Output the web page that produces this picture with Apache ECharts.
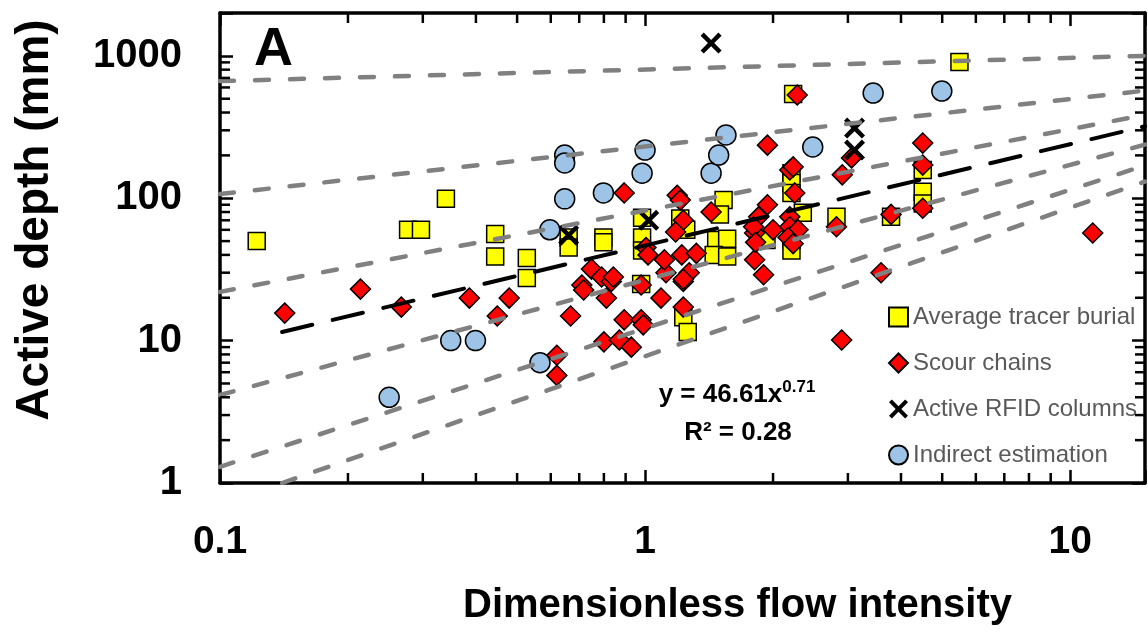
<!DOCTYPE html>
<html>
<head>
<meta charset="utf-8">
<title>Active depth vs dimensionless flow intensity</title>
<script src="https://cdn.jsdelivr.net/npm/echarts@6.0.0/dist/echarts.min.js"></script>
<style>
  html, body { margin: 0; padding: 0; background: #fff; }
  #chart { width: 1148px; height: 633px; }
</style>
</head>
<body>
<div id="chart"></div>
<script>
// values: [flow intensity, active depth (mm)]
const tracerBurial = [
  [0.122, 50], [0.277, 60], [0.297, 60], [0.340, 99], [0.444, 56], [0.444, 39],
  [0.527, 38], [0.527, 27.5], [0.661, 53], [0.661, 45], [0.798, 53], [0.798, 49],
  [0.984, 73], [0.984, 53], [0.984, 43], [0.979, 25], [1.21, 72], [1.25, 60],
  [1.53, 97], [1.50, 77], [1.47, 51], [1.56, 52], [1.45, 40], [1.56, 39],
  [1.23, 14.6], [1.26, 11.5], [1.93, 51], [2.21, 150], [2.21, 128], [2.21, 109],
  [2.35, 79], [2.21, 51], [2.21, 43], [2.23, 539], [2.82, 74], [3.79, 74],
  [4.5, 158], [4.5, 111], [4.5, 92], [5.49, 904]
]
const scourChains = [
  [0.142, 15.6], [0.214, 23], [0.267, 17.2], [0.386, 19.9], [0.449, 14.9], [0.479, 19.9],
  [0.668, 14.9], [0.71, 24.6], [0.717, 22.7], [0.748, 31.8], [0.62, 7.9], [0.62, 5.7],
  [0.79, 28], [0.833, 26], [0.811, 19.9], [0.842, 28], [0.979, 24.6], [1.09, 19.9],
  [1.23, 17.2], [1.23, 26], [1.12, 30], [1.27, 30], [1.90, 29], [0.893, 14],
  [0.979, 14], [0.99, 12.9], [0.80, 9.8], [0.870, 10.1], [0.928, 9.0],
  [0.893, 109], [1.005, 45], [1.016, 40], [1.11, 37], [1.19, 105], [1.21, 97],
  [1.23, 70], [1.18, 58], [1.22, 40], [1.32, 41], [1.23, 27], [1.43, 80],
  [1.81, 37], [1.81, 57], [1.94, 236], [1.94, 90], [1.85, 74], [1.80, 63],
  [2.00, 60], [1.82, 49], [2.19, 158], [2.23, 166], [2.25, 109], [2.19, 74],
  [2.19, 63], [2.29, 60], [2.17, 53], [2.23, 48], [2.28, 531], [2.82, 63],
  [2.91, 146], [3.06, 192], [2.90, 10.1], [3.59, 30], [3.79, 77],
  [4.5, 244], [4.5, 171], [4.5, 85], [11.3, 57]
]
const rfidColumns = [[0.661, 55], [1.02, 70], [1.43, 1230], [3.11, 311], [3.11, 218]]
const indirectEstimation = [
  [0.250, 4], [0.349, 10], [0.399, 10], [0.566, 7], [0.597, 60], [0.647, 201],
  [0.647, 177], [0.647, 99], [0.798, 109], [1.0, 218], [0.984, 150], [1.43, 150],
  [1.49, 201], [1.55, 278], [2.48, 229], [3.44, 548], [4.99, 566]
]

// power-law fit y = 46.61x^0.71 (end points as drawn) and the grey reference lines
const fitLine = [[0.14, 11.5], [15, 320]]
const guide1 = [[0.1, 665], [15, 1000]]
const guide2 = [[0.1, 107], [15, 570]]
const guide3 = [[0.1, 22], [15, 385]]
const guide4 = [[0.1, 4.15], [15, 238]]
const guide5 = [[0.1, 1.3], [15, 170]]
const guide6 = [[0.14, 1], [15, 131]]

// axis ranges and minor tick values
const xRange = [0.1, 15]
const yRange = [1, 2000]
const xMinorTicks = [0.2, 0.3, 0.4, 0.5, 0.6, 0.7, 0.8, 0.9, 2, 3, 4, 5, 6, 7, 8, 9]
const yMinorTicks = [2, 3, 4, 5, 6, 7, 8, 9, 20, 30, 40, 50, 60, 70, 80, 90,
  200, 300, 400, 500, 600, 700, 800, 900]

const FONT = '"Liberation Sans", Arial, Helvetica, sans-serif'
const xMark = 'path://M0,3L3,0L10,7L17,0L20,3L13,10L20,17L17,20L10,13L3,20L0,17L7,10Z'

function decadeLabel(v) {
  const l = Math.log10(v)
  return Math.abs(l - Math.round(l)) < 1e-6 ? String(+v.toPrecision(3)) : ''
}

const chart = echarts.init(document.getElementById('chart'))

const frameAxis = {
  type: 'log',
  logBase: 10,
  axisLine: { show: true, lineStyle: { color: '#000', width: 3.5 } },
  axisTick: { show: true, inside: true, length: 13, lineStyle: { color: '#000', width: 2.5 } },
  splitLine: { show: false }
}

function minorTickSeries(name, values, vertical) {
  return {
    name: name,
    type: 'custom',
    silent: true,
    z: 6,
    data: values.map(v => vertical ? [v, yRange[0]] : [xRange[0], v]),
    renderItem: function(params, api) {
      const style = { stroke: '#000', lineWidth: 2.5 }
      if (vertical) {
        const v = api.value(0)
        const b = api.coord([v, yRange[0]])
        const t = api.coord([v, yRange[1]])
        return { type: 'group', children: [
          { type: 'line', shape: { x1: b[0], y1: b[1], x2: b[0], y2: b[1] - 10 }, style: style },
          { type: 'line', shape: { x1: t[0], y1: t[1], x2: t[0], y2: t[1] + 10 }, style: style }
        ] }
      }
      const v = api.value(1)
      const l = api.coord([xRange[0], v])
      const r = api.coord([xRange[1], v])
      return { type: 'group', children: [
        { type: 'line', shape: { x1: l[0], y1: l[1], x2: l[0] + 10, y2: l[1] }, style: style },
        { type: 'line', shape: { x1: r[0], y1: r[1], x2: r[0] - 10, y2: r[1] }, style: style }
      ] }
    }
  }
}

function guideSeries(name, data) {
  return {
    name: name,
    type: 'line',
    data: data,
    showSymbol: false,
    silent: true,
    z: 4,
    lineStyle: { color: '#808080', width: 4.5, type: [14, 21], cap: 'round' }
  }
}

chart.setOption({
  animation: false,
  textStyle: { fontFamily: FONT },
  title: [
    { text: 'A', left: 249, top: 18, textStyle: { fontSize: 54, fontWeight: 'bold', color: '#000', fontFamily: FONT } },
    {
      text: '{m|y = 46.61x}{s|0.71}',
      left: 732, top: 374, textAlign: 'center',
      textStyle: {
        fontFamily: FONT,
        rich: {
          m: { fontSize: 26, fontWeight: 'bold', color: '#000', fontFamily: FONT, lineHeight: 32 },
          s: { fontSize: 17, fontWeight: 'bold', color: '#000', fontFamily: FONT, verticalAlign: 'top', lineHeight: 22 }
        }
      }
    },
    { text: 'R² = 0.28', left: 733, top: 415, textAlign: 'center', textStyle: { fontSize: 26, fontWeight: 'bold', color: '#000', fontFamily: FONT } }
  ],
  legend: {
    data: ['Average tracer burial', 'Scour chains', 'Active RFID columns', 'Indirect estimation'],
    orient: 'vertical',
    left: 883,
    top: 300,
    itemWidth: 19,
    itemHeight: 19,
    itemGap: 22,
    textStyle: { fontSize: 24, color: '#595959', fontFamily: FONT }
  },
  grid: { left: 220, top: 13, width: 932, height: 470 },
  xAxis: [
    Object.assign({}, frameAxis, {
      position: 'bottom',
      min: xRange[0],
      max: xRange[1],
      axisLabel: { margin: 40, fontSize: 39, fontWeight: 'bold', color: '#000', fontFamily: FONT, formatter: decadeLabel },
      name: 'Dimensionless flow intensity',
      nameLocation: 'middle',
      nameGap: 103,
      nameTextStyle: { fontSize: 40, fontWeight: 'bold', color: '#000', fontFamily: FONT, padding: [0, 0, 0, 110] }
    }),
    Object.assign({}, frameAxis, {
      position: 'top',
      min: xRange[0],
      max: xRange[1],
      axisLabel: { show: false }
    })
  ],
  yAxis: [
    Object.assign({}, frameAxis, {
      position: 'left',
      min: yRange[0],
      max: yRange[1],
      axisLabel: { margin: 38, fontSize: 40, fontWeight: 'bold', color: '#000', fontFamily: FONT, formatter: decadeLabel },
      name: 'Active depth (mm)',
      nameLocation: 'middle',
      nameGap: 162,
      nameTextStyle: { fontSize: 46, fontWeight: 'bold', color: '#000', fontFamily: FONT, padding: [0, 0, 0, 56] }
    }),
    Object.assign({}, frameAxis, {
      position: 'right',
      min: yRange[0],
      max: yRange[1],
      axisLabel: { show: false }
    })
  ],
  series: [
    {
      name: 'Average tracer burial',
      type: 'scatter',
      symbol: 'rect',
      symbolSize: 17,
      data: tracerBurial,
      itemStyle: { color: '#ffff00', borderColor: '#000', borderWidth: 1.5, opacity: 1 }
    },
    {
      name: 'Scour chains',
      type: 'scatter',
      symbol: 'diamond',
      symbolSize: 20,
      data: scourChains,
      itemStyle: { color: '#ff0000', borderColor: '#000', borderWidth: 1.5, opacity: 1 }
    },
    {
      name: 'Active RFID columns',
      type: 'scatter',
      symbol: xMark,
      symbolSize: 21,
      data: rfidColumns,
      itemStyle: { color: '#000', opacity: 1 }
    },
    {
      name: 'Indirect estimation',
      type: 'scatter',
      symbol: 'circle',
      symbolSize: 20,
      data: indirectEstimation,
      itemStyle: { color: '#9dc3e6', borderColor: '#000', borderWidth: 1.5, opacity: 1 }
    },
    guideSeries('guide1', guide1),
    guideSeries('guide2', guide2),
    guideSeries('guide3', guide3),
    guideSeries('guide4', guide4),
    guideSeries('guide5', guide5),
    guideSeries('guide6', guide6),
    {
      name: 'fit',
      type: 'line',
      data: fitLine,
      showSymbol: false,
      silent: true,
      z: 5,
      lineStyle: { color: '#000', width: 4, type: [31, 21], cap: 'round' }
    },
    minorTickSeries('xMinor', xMinorTicks, true),
    minorTickSeries('yMinor', yMinorTicks, false)
  ]
})
</script>
</body>
</html>
